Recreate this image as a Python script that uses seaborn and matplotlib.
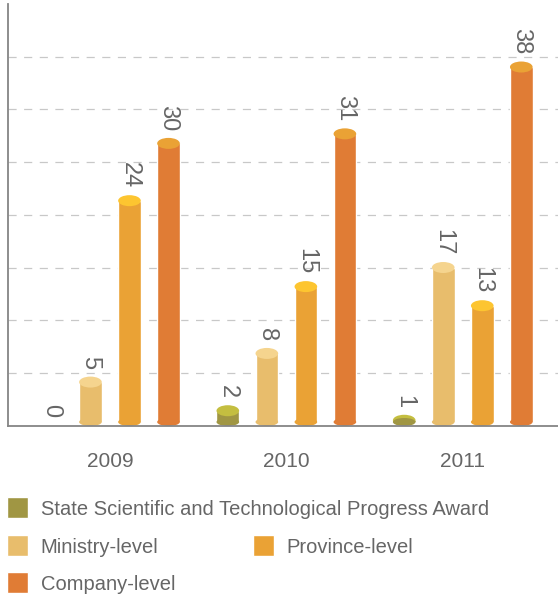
import matplotlib
matplotlib.use('Agg')
import matplotlib.pyplot as plt
from matplotlib.patches import Ellipse, Patch
import numpy as np
import pandas as pd
import seaborn as sns

# chart data
years = ['2009', '2010', '2011']
levels = ['State Scientific and Technological Progress Award',
          'Ministry-level', 'Province-level', 'Company-level']
state = [0, 2, 1]
ministry = [5, 8, 17]
province = [24, 15, 13]
company = [30, 31, 38]

body_colors = ['#A09643', '#E8BD6C', '#EAA235', '#E07C35']
cap_colors = ['#C4BE40', '#F5D48E', '#FDC530', '#EAA235']
text_color = '#666666'

rows = []
for lvl, vals in zip(levels, [state, ministry, province, company]):
    for yr, v in zip(years, vals):
        rows.append({'year': yr, 'level': lvl, 'count': v})
df = pd.DataFrame(rows)

sns.set_style('white')
plt.rcParams['font.family'] = ['Liberation Sans', 'DejaVu Sans']

fig = plt.figure(figsize=(5.58, 6.02), dpi=100)
ax = fig.add_axes([8 / 558, 176 / 602, 550 / 558, 422 / 602])

sns.barplot(data=df, x='year', y='count', hue='level', hue_order=levels,
            palette=body_colors, saturation=1, width=0.885, gap=0.42,
            legend=False, ax=ax, zorder=3)

ymin, ymax = 0.4, 44.6
ax.set_ylim(ymin, ymax)
ax.set_xlim(-0.578, 2.54)

# cylinder look: rounded bottom, lighter top cap, rotated value labels
px_per_unit = 422 / (ymax - ymin)
cap_h = 11 / px_per_unit
bot_h = 8 / px_per_unit
for cont, cap, body in zip(ax.containers, cap_colors, body_colors):
    for bar in cont:
        w = bar.get_width()
        x = bar.get_x() + w / 2
        h = bar.get_height()
        if h > 0:
            base = ymin + bot_h / 2
            bar.set_y(base)
            bar.set_height(max(h - base, 0))
            ax.add_patch(Ellipse((x, h), w, cap_h,
                                 facecolor=cap, edgecolor='none', zorder=4))
            ax.add_patch(Ellipse((x, base), w, bot_h,
                                 facecolor=body, edgecolor='none', zorder=4.5))
        ax.annotate(f'{h:g}', (x, h), xytext=(0, 9),
                    textcoords='offset points', rotation=-90,
                    ha='center', va='bottom', fontsize=17,
                    color=text_color, annotation_clip=False)

# grid
ax.set_yticks(np.linspace(ymin, ymax, 9)[1:-1])
ax.set_yticklabels([])
ax.yaxis.grid(True, color='#c8c8c8', linewidth=0.9,
              linestyle=(0, (6.5, 6)), zorder=0)
ax.xaxis.grid(False)
ax.set_axisbelow(True)

ax.set_xlabel('')
ax.set_ylabel('')
ax.tick_params(axis='both', length=0)
ax.tick_params(axis='x', labelsize=15, labelcolor=text_color, pad=19)

for s in ['top', 'right']:
    ax.spines[s].set_visible(False)
for s in ['left', 'bottom']:
    ax.spines[s].set_color('#858585')
    ax.spines[s].set_linewidth(1.3)
    ax.spines[s].set_zorder(5)

# legend laid out in rows like the original
legend_pos = [(7, 508), (7, 546), (253, 546), (7, 583)]
for lvl, col, (px, py) in zip(levels, body_colors, legend_pos):
    leg = fig.legend(handles=[Patch(facecolor=col, label=lvl)],
                     loc='center left',
                     bbox_to_anchor=(px / 558, 1 - py / 602),
                     frameon=False, borderpad=0, borderaxespad=0,
                     handlelength=1.045, handleheight=1.23,
                     handletextpad=0.62, fontsize=14.5)
    for t in leg.get_texts():
        t.set_color(text_color)

fig.savefig('out.png', dpi=100)
